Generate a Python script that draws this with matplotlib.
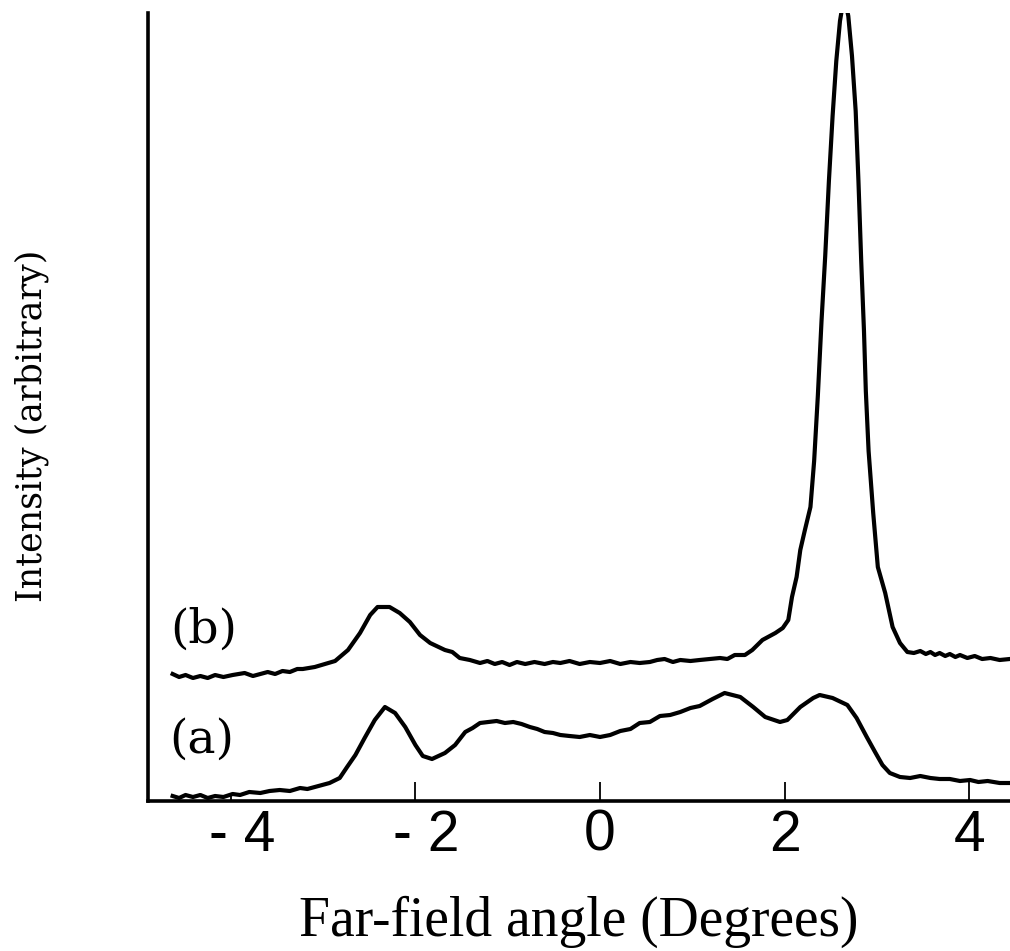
import matplotlib
matplotlib.use("Agg")
import matplotlib.pyplot as plt
from matplotlib.transforms import ScaledTranslation

# ---- data (angle in degrees, intensity in arbitrary units) ----
angle_a = [-4.63, -4.56, -4.49, -4.41, -4.33, -4.25, -4.17, -4.08, -3.98, -3.90,
           -3.80, -3.68, -3.58, -3.47, -3.36, -3.25, -3.17, -3.09,
           -2.93, -2.82, -2.74, -2.65, -2.55, -2.44, -2.33, -2.22, -2.11, -2.00,
           -1.92, -1.82, -1.68, -1.57, -1.46, -1.38, -1.30, -1.21, -1.12, -1.03,
           -0.94, -0.85, -0.76, -0.68, -0.60, -0.51, -0.43, -0.33, -0.22, -0.11,
           0.00, 0.11, 0.22, 0.33, 0.43, 0.54, 0.65, 0.76, 0.87,
           0.98, 1.08, 1.22, 1.35, 1.52, 1.66, 1.79, 1.95, 2.03, 2.17, 2.31, 2.38,
           2.52, 2.68, 2.78, 2.89, 2.98, 3.06, 3.14, 3.25, 3.36, 3.47, 3.58, 3.68,
           3.79, 3.90, 4.01, 4.10, 4.20, 4.33, 4.44]
intensity_a = [0.05, 0.03, 0.06, 0.04, 0.06, 0.03, 0.05, 0.04, 0.07, 0.06,
               0.09, 0.08, 0.10, 0.11, 0.10, 0.13, 0.12, 0.14,
               0.18, 0.23, 0.34, 0.46, 0.63, 0.81, 0.94, 0.88, 0.74, 0.56,
               0.45, 0.42, 0.48, 0.56, 0.69, 0.73, 0.78, 0.79, 0.80, 0.78,
               0.79, 0.77, 0.74, 0.72, 0.69, 0.68, 0.66, 0.65, 0.64, 0.66,
               0.64, 0.66, 0.70, 0.72, 0.78, 0.79, 0.85, 0.86, 0.89,
               0.93, 0.95, 1.02, 1.08, 1.04, 0.94, 0.84, 0.79, 0.81, 0.94, 1.03, 1.06,
               1.03, 0.96, 0.83, 0.64, 0.49, 0.36, 0.28, 0.24, 0.23, 0.25, 0.23, 0.22,
               0.22, 0.20, 0.21, 0.19, 0.20, 0.18, 0.18]

angle_b = [-4.63, -4.56, -4.49, -4.41, -4.33, -4.25, -4.17, -4.08, -3.98, -3.85,
           -3.76, -3.68, -3.60, -3.52, -3.44, -3.36, -3.28, -3.22, -3.09, -2.98,
           -2.87, -2.73, -2.60, -2.49, -2.41, -2.28, -2.17, -2.06,
           -1.95, -1.84, -1.68, -1.60, -1.52, -1.41, -1.30, -1.22, -1.14, -1.06,
           -0.98, -0.90, -0.81, -0.71, -0.60, -0.51, -0.43, -0.33, -0.22, -0.11,
           0.00, 0.11, 0.22, 0.33, 0.43, 0.54, 0.62, 0.70, 0.79, 0.87, 0.98,
           1.08, 1.19, 1.30, 1.38, 1.46, 1.57, 1.65,
           1.76, 1.90, 1.98, 2.04, 2.08, 2.13, 2.17, 2.22, 2.28, 2.32, 2.36,
           2.40, 2.44, 2.48, 2.52, 2.56, 2.60, 2.645, 2.69, 2.73, 2.77,
           2.80, 2.83, 2.86, 2.88, 2.91, 2.96, 3.01, 3.09, 3.17, 3.25, 3.33,
           3.40, 3.47, 3.53, 3.58, 3.63, 3.68, 3.74, 3.79, 3.85, 3.90, 3.98,
           4.06, 4.14, 4.23, 4.33, 4.44]
intensity_b = [1.27, 1.24, 1.26, 1.23, 1.25, 1.23, 1.26, 1.24, 1.26, 1.28,
               1.25, 1.27, 1.29, 1.27, 1.30, 1.29, 1.32, 1.32, 1.34, 1.37,
               1.40, 1.51, 1.68, 1.86, 1.94, 1.94, 1.88, 1.79,
               1.66, 1.58, 1.51, 1.49, 1.43, 1.41, 1.38, 1.40, 1.37, 1.39,
               1.36, 1.39, 1.37, 1.39, 1.37, 1.39, 1.38, 1.40, 1.37, 1.39,
               1.38, 1.40, 1.37, 1.39, 1.38, 1.39, 1.41, 1.42, 1.39, 1.41, 1.40,
               1.41, 1.42, 1.43, 1.42, 1.46, 1.46, 1.51,
               1.61, 1.68, 1.73, 1.81, 2.04, 2.24, 2.51, 2.71, 2.94, 3.40, 4.05,
               4.80, 5.45, 6.20, 6.85, 7.40, 7.80, 8.05, 7.85, 7.45, 6.90,
               6.20, 5.40, 4.70, 4.10, 3.50, 2.88, 2.34, 2.08, 1.74, 1.58, 1.49,
               1.48, 1.50, 1.47, 1.49, 1.46, 1.48, 1.45, 1.47, 1.44, 1.46, 1.43,
               1.45, 1.42, 1.43, 1.41, 1.42]

tick_values = [-4, -2, 0, 2, 4]
tick_labels = ["- 4", "- 2", "0", "2", "4"]
curve_labels = ["(a)", "(b)"]

W, H = 1010, 951
fig = plt.figure(figsize=(W / 100, H / 100), dpi=100)
ax = fig.add_axes([148 / W, 1 - 801 / H, (1010 - 148) / W, (801 - 13) / H])

ax.plot(angle_a, intensity_a, color="black", lw=3.0, solid_joinstyle="round")
ax.plot(angle_b, intensity_b, color="black", lw=3.0, solid_joinstyle="round")

ax.set_xlim(-4.897, 4.442)
ax.set_ylim(0, 7.88)

for s in ("top", "right"):
    ax.spines[s].set_visible(False)
for s in ("left", "bottom"):
    ax.spines[s].set_linewidth(2.6)

ax.set_yticks([])
ax.set_xticks(tick_values)
ax.set_xticklabels(tick_labels, family="Liberation Sans", fontsize=41)
ax.tick_params(axis="x", direction="in", length=14, width=1.3, pad=5.5)
ax.xaxis.get_major_ticks()[0].tick1line.set_markersize(4)
for lab, txt in zip(ax.get_xticklabels(), tick_labels):
    if txt.startswith("-"):
        lab.set_transform(lab.get_transform() +
                          ScaledTranslation(11 / 100, 0, fig.dpi_scale_trans))

ax.set_xlabel("Far-field angle (Degrees)", family="Liberation Serif",
              fontsize=40, labelpad=24)

ax.set_ylabel("Intensity (arbitrary)", family="DejaVu Serif", fontsize=25)
ylab = ax.yaxis.label
ylab.set_rotation_mode("default")
ylab.set_verticalalignment("center")
ylab.set_horizontalalignment("center")
ax.yaxis.set_label_coords((32 - 148) / (1010 - 148), (801 - 426) / (801 - 13))

ax.text(-4.29, 1.71, curve_labels[1], family="DejaVu Serif", fontsize=34,
        ha="center", va="center")
ax.text(-4.32, 0.61, curve_labels[0], family="DejaVu Serif", fontsize=34,
        ha="center", va="center")

fig.savefig("out.png", dpi=100)
